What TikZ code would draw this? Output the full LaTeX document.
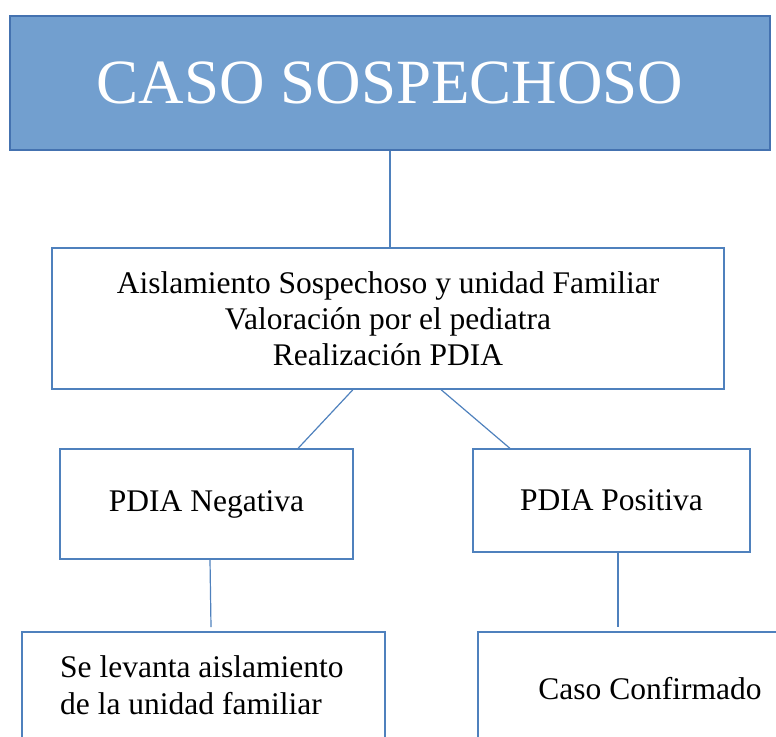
\documentclass[tikz,border=0pt]{standalone}
\usepackage{fontspec}
\setmainfont{Liberation Serif}
\definecolor{topfill}{RGB}{114,159,207}
\definecolor{topedge}{RGB}{68,114,176}
\definecolor{edge}{RGB}{79,129,189}
\begin{document}
\begin{tikzpicture}[x=1pt,y=-1pt,
  box/.style={draw=edge, line width=1.2pt, rectangle, inner sep=0pt},
  link/.style={draw=edge, line width=1.2pt},
  txt/.style={font=\fontsize{31.5}{36}\selectfont, align=center}]
\useasboundingbox (0,0) rectangle (776,736);
\clip (0,0) rectangle (776,736);
\node[box, fill=topfill, draw=topedge, minimum width=760pt, minimum height=134pt,
  text=white, font=\fontsize{63}{72}\selectfont] (top) at (390,83) {CASO SOSPECHOSO};
\node[box, txt, minimum width=672pt, minimum height=141pt] (mid) at (388,318.5)
  {Aislamiento Sospechoso y unidad Familiar\\Valoración por el pediatra\\Realización PDIA};
\node[box, txt, minimum width=293pt, minimum height=110pt] (neg) at (206.5,504) {PDIA Negativa};
\node[box, txt, minimum width=277pt, minimum height=103pt] (pos) at (611.5,500.5) {PDIA Positiva};
\node[box, minimum width=363pt, minimum height=148pt] (lev) at (203.5,706) {};
\node[box, minimum width=322pt, minimum height=148pt] (conf) at (639,706) {};
\node[font=\fontsize{31.5}{37}\selectfont, align=left, anchor=base west, inner sep=0pt] (levtxt) at (60,714)
  {Se levanta aislamiento\\de la unidad familiar};
\node[font=\fontsize{31.5}{37}\selectfont, anchor=base, inner sep=0pt] (conftxt) at (650,699) {Caso Confirmado};
\coordinate (negend) at (211,627);
\coordinate (posend) at (618,627);
\draw[link] (top.south) -- (top.south |- mid.north);
\draw[link] ([xshift=-35pt]mid.south) -- ([xshift=91.5pt]neg.north);
\draw[link] ([xshift=53pt]mid.south) -- ([xshift=-101.5pt]pos.north);
\draw[link] ([xshift=3.5pt]neg.south) -- (negend);
\draw[link] ([xshift=6.5pt]pos.south) -- (posend);
\end{tikzpicture}
\end{document}
